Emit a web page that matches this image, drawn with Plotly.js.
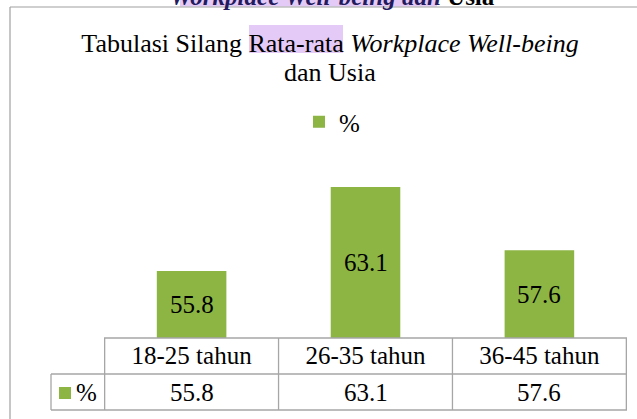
<!DOCTYPE html>
<html>
<head>
<meta charset="utf-8">
<script src="https://cdn.plot.ly/plotly-3.0.1.min.js"></script>
<style>html,body{margin:0;padding:0;background:#fff;}#chart{width:637px;height:419px;}</style>
</head>
<body>
<div id="chart"></div>
<script>
const categories = ['18-25 tahun', '26-35 tahun', '36-45 tahun'];
const values = [55.8, 63.1, 57.6];
const seriesName = '%';
const yMin = 50, yMax = 65;
const titleLine1 = 'Tabulasi Silang Rata-rata <i>Workplace Well-being</i>';
const titleLine2 = 'dan Usia';
const caption = '<b><i><span style="color:#241b5e">Workplace Well-being dan</span></i> Usia</b>';

const W = 637, H = 419;
const mL = 104, mR = 10, mT = 165, mB = 81;
const pw = W - mL - mR, ph = H - mT - mB;
const px = x => (x - mL) / pw;          // pixel -> paper x
const py = y => (H - mB - y) / ph;      // pixel -> paper y

const green = '#8cb543';
const gridGray = '#a6a6a6';
const font = 'Liberation Serif, Times New Roman, Times, serif';

const shapes = [];
shapes.push({type:'line', xref:'paper', yref:'paper', x0:px(10), x1:px(10), y0:py(7), y1:py(480), line:{color:'#a0a0a0', width:1.2}});
shapes.push({type:'line', xref:'paper', yref:'paper', x0:px(10), x1:px(700), y0:py(7), y1:py(7), line:{color:'#a0a0a0', width:1.2}});
shapes.push({type:'rect', xref:'paper', yref:'paper', x0:px(180), x1:px(437), y0:py(-20), y1:py(6.5), fillcolor:'#e4cbf7', line:{width:0}, layer:'below'});
shapes.push({type:'rect', xref:'paper', yref:'paper', x0:px(249), x1:px(343), y0:py(25), y1:py(53), fillcolor:'#e4cbf7', line:{width:0}, layer:'below'});
const rowTop = 0, rowMid = py(374), rowBot = py(410), keyLeft = px(51);
shapes.push({type:'line', xref:'paper', yref:'paper', x0:0, x1:1, y0:rowTop, y1:rowTop, line:{color:gridGray, width:1.3}});
shapes.push({type:'line', xref:'paper', yref:'paper', x0:keyLeft, x1:1, y0:rowMid, y1:rowMid, line:{color:gridGray, width:1.3}});
shapes.push({type:'line', xref:'paper', yref:'paper', x0:keyLeft, x1:1, y0:rowBot, y1:rowBot, line:{color:gridGray, width:1.3}});
shapes.push({type:'line', xref:'paper', yref:'paper', x0:keyLeft, x1:keyLeft, y0:rowMid, y1:rowBot, line:{color:gridGray, width:1.3}});
for (let i = 0; i <= categories.length; i++) {
  shapes.push({type:'line', xref:'x', yref:'paper', x0:i - 0.5, x1:i - 0.5, y0:rowTop, y1:rowBot, line:{color:gridGray, width:1.3}});
}
shapes.push({type:'rect', xref:'paper', yref:'paper', x0:px(59), x1:px(71), y0:py(399), y1:py(387), fillcolor:green, line:{width:0}});

const annotations = [];
values.forEach((v, i) => {
  annotations.push({x: categories[i], xref:'x', y: (yMin + v) / 2, yref:'y', text: v.toFixed(1), showarrow:false,
    xanchor:'center', yanchor:'middle', font:{family:font, size:25, color:'#000'}});
});
values.forEach((v, i) => {
  annotations.push({x: categories[i], xref:'x', y: py(392), yref:'paper', text: v.toFixed(1), showarrow:false,
    xanchor:'center', yanchor:'middle', font:{family:font, size:25, color:'#000'}});
});
annotations.push({x: px(86), xref:'paper', y: py(392), yref:'paper', text: seriesName, showarrow:false,
  xanchor:'center', yanchor:'middle', font:{family:font, size:25, color:'#000'}});
annotations.push({x: px(332), xref:'paper', y: py(-4), yref:'paper', text: caption, showarrow:false,
  xanchor:'center', yanchor:'middle', font:{family:font, size:25, color:'#000'}});
annotations.push({x: px(330), xref:'paper', y: py(72), yref:'paper', text: titleLine2, showarrow:false,
  xanchor:'center', yanchor:'middle', font:{family:font, size:26, color:'#000'}});

const trace = {
  type:'bar', x: categories, y: values, name: seriesName, width: 0.4,
  marker:{color: green, line:{width:0}},
  textposition:'none', hoverinfo:'skip'
};

const layout = {
  width: W, height: H,
  margin:{l:mL, r:mR, t:mT, b:mB, pad:0},
  paper_bgcolor:'#fff', plot_bgcolor:'#fff',
  font:{family:font, size:25, color:'#000'},
  title:{text: titleLine1, x: 330 / W, xref:'container', xanchor:'center',
    y: 1 - 43 / H, yref:'container', yanchor:'middle', font:{family:font, size:26, color:'#000'}},
  showlegend:true,
  legend:{orientation:'h', x: px(332), xanchor:'center', y: py(122), yanchor:'middle',
    font:{family:font, size:25, color:'#000'}, bgcolor:'rgba(0,0,0,0)', itemwidth:30},
  xaxis:{type:'category', showgrid:false, zeroline:false, showline:false, ticks:'',
    tickfont:{family:font, size:25, color:'#000'}, fixedrange:true},
  yaxis:{range:[yMin, yMax], visible:false, showgrid:false, zeroline:false, fixedrange:true},
  shapes: shapes, annotations: annotations
};

Plotly.newPlot('chart', [trace], layout, {displayModeBar:false, staticPlot:true});
</script>
</body>
</html>
